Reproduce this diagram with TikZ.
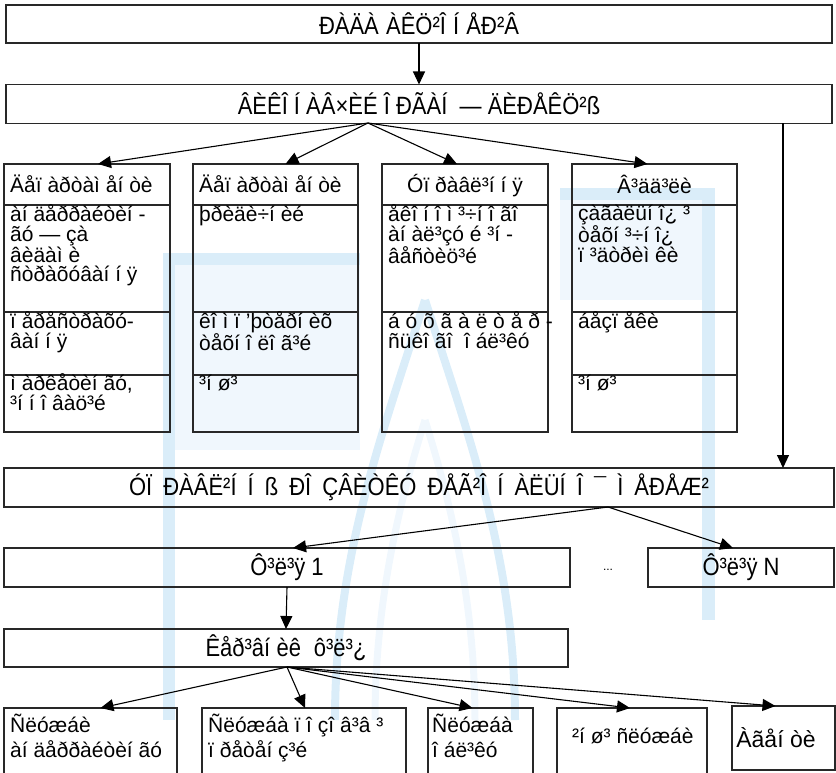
\documentclass[tikz,border=0pt]{standalone}
\usepackage{fontspec}
\setmainfont{Liberation Sans}
\newfontfamily\hdrfont[FakeStretch=0.88]{Liberation Sans}
\usetikzlibrary{arrows.meta, positioning, calc}
\definecolor{wmblue}{RGB}{218, 237, 249}
\definecolor{wmpale}{RGB}{240, 247, 253}
\definecolor{edgegray}{RGB}{40, 40, 40}
\newcommand{\spreadto}[2]{\makebox[#1][s]{#2}}

\begin{document}
\begin{tikzpicture}[x=1pt, y=-1pt,
  box/.style={draw=edgegray, line width=1.1pt, inner sep=0pt, outer sep=0pt},
  hdr/.style={font=\hdrfont\fontsize{25}{27}\selectfont},
  cell/.style={draw=edgegray, line width=1.1pt, inner sep=0pt, outer sep=0pt},
  celltext/.style={anchor=north west, inner sep=0pt, align=left,
    font=\fontsize{21}{19.7}\selectfont, execute at begin node=\rule{0pt}{16.5pt}},
  arr/.style={-{Triangle[length=13pt, width=12pt]}, line width=1.1pt}]
  \useasboundingbox (0,0) rectangle (836,773);

  % watermark
  \fill[wmpale] (175,265) rectangle (360,450);
  \fill[wmpale] (560,200) rectangle (702,300);
  \fill[wmblue] (163,253) rectangle (175,720);
  \fill[wmblue] (163,253) rectangle (360,265);
  \fill[wmblue] (560,188) rectangle (715,200);
  \fill[wmblue] (702,188) rectangle (715,620);
  \draw[wmblue, line width=8pt] (335,720) .. controls (335,560) and (380,440) .. (425,300);
  \draw[wmblue, line width=8pt] (515,720) .. controls (515,560) and (470,440) .. (425,300);
  \draw[wmpale, line width=7pt] (375,720) .. controls (375,600) and (400,500) .. (425,420);
  \draw[wmpale, line width=7pt] (475,720) .. controls (475,600) and (450,500) .. (425,420);

  % top levels
  \node[box, hdr, minimum width=826pt, minimum height=38pt] (rada) at (419,24) {\spreadto{200pt}{ÐÀÄÀ ÀÊÖ²Î Í ÅÐ²Â}};
  \node[box, hdr, minimum width=826pt, minimum height=39pt] (org) at (419,104) {ÂÈÊÎ Í ÀÂ×ÈÉ Î ÐÃÀÍ \ — ÄÈÐÅÊÖ²ß};
  \draw[arr] (rada) -- (org);

  % column 1
  \node[cell, minimum width=166pt, minimum height=41pt] (depA) at (87,184.5) {};
  \node[celltext] at (10,174.5) {Äåï àðòàì åí òè};
  \node[cell, minimum width=166pt, minimum height=107pt] (depA1) at (87,258.5) {};
  \node[cell, minimum width=166pt, minimum height=63pt] (depA2) at (87,343.5) {};
  \node[cell, minimum width=166pt, minimum height=57pt] (depA3) at (87,403.5) {};
  \node[celltext] at (10,204.5) {àí äåððàéòèí -\\ãó — çà\\âèäàì è\\ñòðàõóâàí í ÿ};
  \node[celltext] at (10,311.5) {ï åðåñòðàõó-\\âàí í ÿ};
  \node[celltext] at (10,373.5) {ì àðêåòèí ãó,\\³í í î âàö³é};

  % column 2
  \node[cell, minimum width=165pt, minimum height=41pt] (depB) at (275.5,184.5) {};
  \node[celltext] at (199,174.5) {Äåï àðòàì åí òè};
  \node[cell, minimum width=165pt, minimum height=107pt] (depB1) at (275.5,258.5) {};
  \node[cell, minimum width=165pt, minimum height=63pt] (depB2) at (275.5,343.5) {};
  \node[cell, minimum width=165pt, minimum height=57pt] (depB3) at (275.5,403.5) {};
  \node[celltext] at (199,204.5) {þðèäè÷í èé};
  \node[celltext] at (199,311.5) {êî ì ï ’þòåðí èõ\\òåõí î ëî ã³é};
  \node[celltext] at (199,373.5) {³í ø³};

  % column 3
  \node[cell, minimum width=166pt, minimum height=41pt] (upr) at (465,184.5) {};
  \node[celltext, anchor=north] at (465,174.5) {Óï ðàâë³í í ÿ};
  \node[cell, minimum width=166pt, minimum height=107pt] (upr1) at (465,258.5) {};
  \node[cell, minimum width=166pt, minimum height=120pt] (upr2) at (465,372) {};
  \node[celltext] at (388,204.5) {åêî í î ì ³÷í î ãî\\àí àë³çó é ³í -\\âåñòèö³é};
  \node[celltext] at (388,311.5) {á ó õ ã à ë ò å ð -\\ñüêî ãî \ î áë³êó};

  % column 4
  \node[cell, minimum width=165pt, minimum height=41pt] (vid) at (654.5,184.5) {};
  \node[celltext, anchor=north] at (654.5,174.5) {Â³ää³ëè};
  \node[cell, minimum width=165pt, minimum height=107pt] (vid1) at (654.5,258.5) {};
  \node[cell, minimum width=165pt, minimum height=63pt] (vid2) at (654.5,343.5) {};
  \node[cell, minimum width=165pt, minimum height=57pt] (vid3) at (654.5,403.5) {};
  \node[celltext] at (578,204.5) {çàãàëüí î¿ ³\\òåõí ³÷í î¿\\ï ³äòðèì êè};
  \node[celltext] at (578,311.5) {áåçï åêè};
  \node[celltext] at (578,373.5) {³í ø³};

  % fan to columns
  \coordinate (fanA) at (368,123);
  \draw[arr] (fanA) -- ([xshift=11pt]depA.north);
  \draw[arr] (fanA) -- ([xshift=10pt]depB.north);
  \draw[arr] (fanA) -- ([xshift=-8pt]upr.north);
  \draw[arr] (fanA) -- ([xshift=-7pt]vid.north);

  % regional network
  \node[box, hdr, minimum width=830pt, minimum height=39pt] (net) at (419,487.5) {\spreadto{580pt}{ÓÏ ÐÀÂË²Í Í ß ÐÎ ÇÂÈÒÊÓ ÐÅÃ²Î Í ÀËÜÍ Î ¯ Ì ÅÐÅÆ²}};
  \draw[arr] (org.south -| 783,0) -- (net.north -| 783,0);

  \node[box, hdr, minimum width=566pt, minimum height=39pt] (fil1) at (287,567.5) {Ô³ë³ÿ 1};
  \node[box, hdr, minimum width=186pt, minimum height=39pt] (filN) at (741,567.5) {Ô³ë³ÿ N};
  \node[font=\fontsize{12}{14}\selectfont] (dots) at (608,570) {...};
  \coordinate (fanB) at (608,507);
  \draw[arr] (fanB) -- ([xshift=6pt]fil1.north);
  \draw[arr] (fanB) -- ([xshift=-8pt]filN.north);

  \node[box, hdr, minimum width=564pt, minimum height=38pt] (ker) at (286,648) {\spreadto{161pt}{Êåð³âí èê \ ô³ë³¿}};
  \draw[arr] (fil1.south) -- (ker.north);

  % services
  \node[cell, minimum width=173pt, minimum height=82pt] (srvA) at (90.5,749) {};
  \node[cell, minimum width=204pt, minimum height=82pt] (srvB) at (304,749) {};
  \node[cell, minimum width=105pt, minimum height=82pt] (srvC) at (480.5,749) {};
  \node[cell, minimum width=150pt, minimum height=82pt] (srvD) at (632,749) {};
  \node[cell, minimum width=103pt, minimum height=64pt] (agent) at (783.5,738) {};
  \node[font=\fontsize{23}{24}\selectfont] at (776,738) {Àãåí òè};
  \node[celltext, font=\fontsize{21}{25}\selectfont] at (10,713.5) {Ñëóæáè\\àí äåððàéòèí ãó};
  \node[celltext, font=\fontsize{21}{25}\selectfont] at (208,713.5) {Ñëóæáà ï î çî â³â ³\\ï ðåòåí ç³é};
  \node[celltext, font=\fontsize{21}{25}\selectfont] at (432,713.5) {Ñëóæáà\\î áë³êó};
  \node[celltext, font=\fontsize{21}{25}\selectfont] at (572,726.5) {²í ø³ ñëóæáè};

  \coordinate (fanC) at (287,667);
  \draw[arr] (fanC) -- ([xshift=10pt]srvA.north);
  \draw[arr] (fanC) -- ([xshift=1pt]srvB.north);
  \draw[arr] (fanC) -- ([xshift=-8pt]srvC.north);
  \draw[arr] (fanC) -- ([xshift=-2pt]srvD.north);
  \draw[arr] (fanC) -- ([xshift=-8pt]agent.north);
\end{tikzpicture}
\end{document}
